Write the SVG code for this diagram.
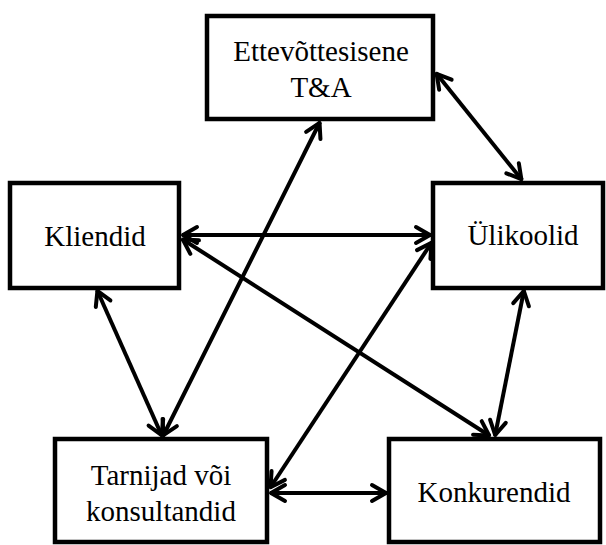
<svg xmlns="http://www.w3.org/2000/svg" width="606" height="545" viewBox="0 0 606 545">
<style>
.box{fill:#fff;stroke:#000;stroke-width:4.5}
.lbl{font-size:29px;fill:#000;text-anchor:middle}
.con{stroke:#000;stroke-width:4;fill:none;marker-start:url(#ah);marker-end:url(#ah)}
</style>
<defs>
<marker id="ah" viewBox="-20 -12 24 24" refX="0" refY="0" markerWidth="24" markerHeight="24" markerUnits="userSpaceOnUse" orient="auto-start-reverse">
<path d="M-15,-8 L-1,0 L-15,8" fill="none" stroke="#000" stroke-width="4" stroke-linecap="round" stroke-linejoin="round"/>
</marker>
</defs>
<rect width="606" height="545" fill="#fff"/>
<g id="connectors">
<line class="con" x1="436" y1="73" x2="522" y2="180"/>
<line class="con" x1="182" y1="235" x2="431" y2="235"/>
<line class="con" x1="182" y1="239" x2="490" y2="436"/>
<line class="con" x1="320" y1="122" x2="163" y2="436"/>
<line class="con" x1="97" y1="290" x2="162" y2="436"/>
<line class="con" x1="432" y1="242" x2="270" y2="488"/>
<line class="con" x1="524" y1="290" x2="495" y2="436"/>
<line class="con" x1="270" y1="493" x2="387" y2="493"/>
</g>
<g font-family="Liberation Serif, Times New Roman, DejaVu Serif, serif">
<g id="node-ta">
<rect class="box" x="207" y="16" width="226" height="103"/>
<text class="lbl" x="321" y="61">Ettevõttesisene</text>
<text class="lbl" x="321" y="97">T&amp;A</text>
</g>
<g id="node-kliendid">
<rect class="box" x="10" y="183" width="169" height="105"/>
<text class="lbl" x="95" y="246">Kliendid</text>
</g>
<g id="node-ylikoolid">
<rect class="box" x="433" y="183" width="170" height="105"/>
<text class="lbl" x="523" y="245">Ülikoolid</text>
</g>
<g id="node-tarnijad">
<rect class="box" x="55" y="439" width="212" height="103"/>
<text class="lbl" x="161" y="485">Tarnijad või</text>
<text class="lbl" x="161" y="521">konsultandid</text>
</g>
<g id="node-konkurendid">
<rect class="box" x="389" y="439" width="211" height="103"/>
<text class="lbl" x="494" y="502">Konkurendid</text>
</g>
</g>
</svg>
